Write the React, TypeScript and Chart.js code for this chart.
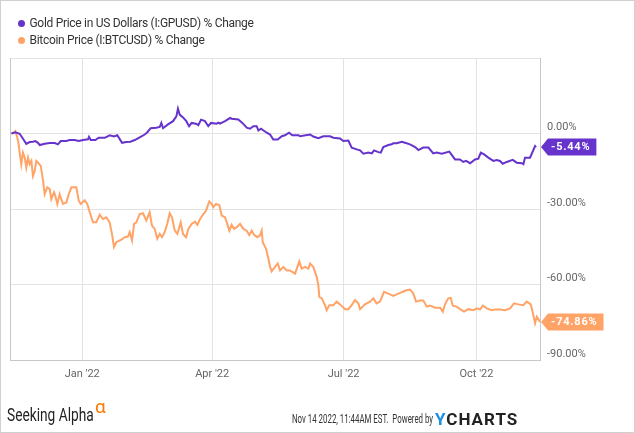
import React, { useEffect, useLayoutEffect, useRef } from 'react';
import { Chart, registerables } from 'chart.js';

Chart.register(...registerables);

const seriesNames = ['Gold Price in US Dollars (I:GPUSD) % Change', 'Bitcoin Price (I:BTCUSD) % Change'];
const seriesColors = ['#6633cc', '#ffa366'];

const xTickDays = [0, 90, 181, 273];
const xTickLabels = ["Jan '22", "Apr '22", "Jul '22", "Oct '22"];
const yTickValues = [30, 0, -30, -60, -90];

const goldDays = [-49, -46.3, -43.3, -41, -38.7, -36.4, -34.1, -32.5, -30.6, -29.4,
  -26, -22.5, -19, -16.8, -14.9, -11, -8.7, -5.2, -2.4, 0.6,
  4, 4.7, 5.9, 9.1, 11.4, 15.6, 19, 22, 24.3, 27.6,
  30.5, 33.3, 36.4, 39.8, 43.3, 45.1, 47.4, 51.3, 53.7, 54.8,
  56, 59.4, 62.9, 65.2, 66.3, 67.5, 69.8, 72.1, 73.3, 74,
  75.8, 79.3, 80.4, 82.3, 85, 87.3, 89.2, 93.1, 94.3, 95.4,
  98.9, 102.4, 103.5, 108.1, 110.9, 113.9, 116.2, 118.5, 120.8, 122,
  123.8, 127.8, 130.1, 132.3, 135.4, 138.2, 140.4, 143.2, 145.5, 149.7,
  150.8, 157.8, 160, 163.5, 167, 171.6, 173.9, 178.5, 180.8, 184.3,
  186.6, 190.1, 192.4, 194.7, 198.1, 200.5, 202.1, 205.1, 206.7, 208.5,
  212, 214.3, 215.4, 217.8, 221.3, 223.5, 227, 230.5, 232.8, 236.2,
  239.7, 243.1, 245.5, 249, 254.2, 258.2, 261.6, 263.9, 265.8, 268.6,
  272, 274.3, 276, 278.3, 281.2, 284.7, 287, 289.3, 291.2, 294,
  298.1, 300.9, 304.4, 305.5, 306.6, 310.1, 313.6, 314.3];
const goldValues = [0, 0.5, -0.1, -2.1, -4.1, -3.4, -3.3, -3.0, -3.7, -4.6,
  -4.1, -3.8, -3.8, -4.3, -3.0, -3.0, -2.6, -2.6, -3.0, -2.6,
  -2.3, -1.3, -2.6, -2.6, -1.7, -1.7, -0.7, -1.2, -0.7, -3.7,
  -3.4, -3.3, -2.6, -1.5, -0.4, 0.5, 2.1, 2.3, 2.6, 4.2,
  2.1, 3.6, 4.9, 6.8, 9.9, 7.5, 6.4, 4.9, 3.6, 2.9,
  4.2, 3.8, 3.3, 5.5, 4.9, 2.9, 4.2, 3.9, 4.3, 3.9,
  4.9, 6.2, 5.9, 5.6, 4.2, 2.3, 1.9, 2.9, 2.9, 1.2,
  1.9, 0.3, -0.4, -2.4, -2.4, -1.1, -0.7, 0.3, -0.7, -0.7,
  -1.1, -0.4, -1.2, -1.9, -1.1, -1.1, -1.7, -2.0, -3.0, -2.8,
  -5.6, -6.3, -6.7, -8.0, -7.6, -7.9, -6.7, -7.4, -7.6, -5.4,
  -4.6, -4.3, -3.9, -3.9, -3.3, -3.7, -4.3, -5.4, -6.6, -5.6,
  -5.6, -7.9, -7.6, -8.0, -7.2, -10.3, -10.3, -11.3, -10.9, -11.8,
  -10.3, -10.0, -7.6, -8.3, -9.6, -10.9, -10.5, -10.9, -12.0, -11.3,
  -10.5, -11.6, -11.8, -12.2, -9.6, -9.6, -5.0, -5.44];

const btcDays = [-49, -47.2, -46.3, -44.9, -44, -43.3, -42.2, -41, -39.8, -38.7,
  -37.5, -36.4, -35.2, -34.1, -32.9, -31.8, -30.6, -28.7, -27.1, -26,
  -24.2, -22.5, -21.4, -19.5, -18.6, -17.2, -15.6, -14.5, -13.3, -11,
  -9.3, -7.5, -4.1, -2.4, -1, 1.7, 3.5, 5.2, 7.5, 9.8,
  12.1, 14.4, 16.7, 19, 20.6, 22, 23.6, 27.1, 29.4, 31.7,
  32.9, 34.5, 35.9, 37.5, 39.8, 42.1, 44.4, 46.7, 48.3, 50.2,
  52, 53.7, 55.3, 57.1, 58.9, 60.6, 62.2, 64.1, 65.9, 68.2,
  69.8, 71.9, 73.5, 75.8, 78.1, 79.7, 81.6, 83.9, 85.7, 88,
  89.7, 90.8, 92.7, 94.9, 96.6, 98.9, 100.1, 101.9, 103.5, 105.1,
  107, 109.3, 111.6, 113.9, 115.7, 117.4, 119, 121.3, 123.1, 124.3,
  125, 127.3, 128.9, 130.1, 131.2, 133.5, 135.4, 137, 139.3, 141.6,
  143.9, 147.4, 150.3, 152, 154.3, 156.6, 157.8, 160, 162.4, 163.5,
  164.2, 165.9, 168.1, 169.3, 171.1, 173.9, 176.2, 178.5, 182, 184.3,
  186.6, 188.9, 191.2, 192.4, 195.8, 199.3, 201.6, 203.9, 206.2, 209,
  212, 215.4, 218.9, 222, 224.7, 227, 229.3, 231.2, 233.9, 236.2,
  238.6, 240.9, 244.3, 247.8, 249.7, 251.2, 253.5, 255.2, 256.6, 259.3,
  261.6, 264.4, 267.4, 270.8, 273.2, 275.5, 277.4, 280.1, 283.6, 285.9,
  289.3, 292.8, 296.3, 299, 302, 305.5, 307.8, 310.6, 312.4, 313.6,
  314.8, 317];
const btcValues = [0, 0.3, 0.9, -1.7, -4.3, -7.6, -12.2, -7.6, -9.6, -13.5,
  -9.6, -12.2, -10.9, -16.9, -14.9, -10.9, -11.6, -12.9, -18.8, -24.1,
  -21.4, -22.1, -26.1, -23.4, -24.8, -28.0, -24.1, -26.1, -28.0, -27.4,
  -24.1, -21.4, -21.4, -26.7, -28.0, -26.5, -28.0, -31.3, -35.3, -35.3,
  -32.3, -34.0, -33.3, -35.3, -39.9, -45.1, -43.2, -42.2, -41.2, -40.9,
  -39.2, -42.5, -35.9, -35.3, -32.0, -31.7, -34.6, -31.3, -36.6, -37.9,
  -41.8, -39.9, -41.2, -39.2, -35.9, -31.7, -33.3, -38.6, -39.9, -35.3,
  -39.9, -41.2, -37.9, -35.9, -35.0, -36.3, -34.0, -32.0, -30.7, -27.0,
  -28.0, -29.3, -28.0, -28.4, -32.6, -33.3, -35.3, -38.6, -36.3, -37.9,
  -37.2, -35.9, -37.9, -38.6, -40.3, -38.6, -40.3, -41.2, -40.5, -38.6,
  -43.2, -45.8, -49.7, -53.0, -54.8, -53.0, -51.7, -54.4, -53.0, -54.4,
  -54.4, -55.7, -50.8, -53.7, -53.0, -53.7, -51.7, -53.0, -57.0, -60.3,
  -64.9, -65.5, -68.2, -70.2, -68.2, -68.2, -66.8, -67.9, -69.8, -69.8,
  -68.2, -66.2, -67.5, -69.8, -67.9, -66.8, -65.5, -67.5, -66.8, -62.9,
  -63.6, -64.5, -63.6, -62.9, -62.3, -62.0, -63.6, -66.8, -66.4, -66.4,
  -68.8, -68.4, -69.2, -69.2, -70.8, -67.9, -65.5, -65.3, -68.4, -68.8,
  -69.8, -70.8, -69.8, -70.2, -69.5, -69.9, -68.4, -69.5, -70.2, -69.9,
  -69.9, -70.2, -69.5, -67.5, -67.9, -68.2, -66.8, -67.9, -72.1, -75.4,
  -72.8, -74.86];

const FONT = 'Roboto, "Noto Sans", sans-serif';

const endLabelsPlugin = {
  id: 'endLabels',
  beforeDatasetsDraw(chart: any) {
    const { ctx, chartArea } = chart;
    ctx.save();
    ctx.strokeStyle = '#c8c8c8';
    ctx.lineWidth = 1;
    ctx.beginPath();
    ctx.moveTo(Math.round(chartArea.left) + 0.5, chartArea.top);
    ctx.lineTo(Math.round(chartArea.left) + 0.5, chartArea.bottom);
    ctx.stroke();
    ctx.restore();
  },
  afterDraw(chart: any) {
    const { ctx, chartArea } = chart;
    chart.data.datasets.forEach((ds: any, i: number) => {
      const meta = chart.getDatasetMeta(i);
      const pt = meta.data[meta.data.length - 1];
      if (!pt) return;
      const y = Math.round(pt.y);
      const last = ds.data[ds.data.length - 1].y;
      const text = last.toFixed(2) + '%';
      ctx.save();
      ctx.font = `bold 11px ${FONT}`;
      (ctx as any).letterSpacing = '0.8px';
      const w = ctx.measureText(text).width;
      const tip = chartArea.right + 1;
      const base = tip + 7;
      const right = base + 3 + w + 6;
      const h = 17;
      ctx.fillStyle = seriesColors[i];
      ctx.beginPath();
      ctx.moveTo(tip, y);
      ctx.lineTo(base, y - h / 2);
      ctx.lineTo(right, y - h / 2);
      ctx.lineTo(right, y + h / 2);
      ctx.lineTo(base, y + h / 2);
      ctx.closePath();
      ctx.fill();
      ctx.fillStyle = '#ffffff';
      ctx.textAlign = 'left';
      ctx.textBaseline = 'middle';
      ctx.fillText(text, base + 3, y + 0.5);
      ctx.restore();
    });
  },
};

function FitText({ text, width, style }: { text: string; width: number; style: React.CSSProperties }) {
  const ref = useRef<HTMLSpanElement>(null);
  useLayoutEffect(() => {
    const el = ref.current;
    if (!el) return;
    el.style.transform = 'none';
    const w = el.offsetWidth;
    if (w > 0) el.style.transform = `scaleX(${width / w})`;
  }, [text, width]);
  return (
    <span
      ref={ref}
      style={{ position: 'absolute', whiteSpace: 'nowrap', display: 'inline-block', transformOrigin: 'left top', lineHeight: 1, ...style }}
    >
      {text}
    </span>
  );
}

export default function App() {
  const canvasRef = useRef<HTMLCanvasElement>(null);

  useEffect(() => {
    document.body.style.margin = '0';
    const canvas = canvasRef.current;
    if (!canvas) return;
    const chart = new Chart(canvas, {
      type: 'line',
      data: {
        datasets: [
          {
            label: seriesNames[0],
            data: goldDays.map((d, i) => ({ x: d, y: goldValues[i] })),
            borderColor: seriesColors[0],
            backgroundColor: seriesColors[0],
            borderWidth: 2,
            pointRadius: 0,
            tension: 0,
          },
          {
            label: seriesNames[1],
            data: btcDays.map((d, i) => ({ x: d, y: btcValues[i] })),
            borderColor: seriesColors[1],
            backgroundColor: seriesColors[1],
            borderWidth: 2,
            pointRadius: 0,
            tension: 0,
          },
        ],
      },
      options: {
        animation: false,
        responsive: false,
        devicePixelRatio: 1,
        layout: { padding: { left: 10, top: 58, right: 0, bottom: 0 } },
        plugins: { legend: { display: false }, tooltip: { enabled: false } },
        scales: {
          x: {
            type: 'linear',
            min: -50,
            max: 317,
            afterBuildTicks: (scale: any) => {
              scale.ticks = xTickDays.map((v) => ({ value: v }));
            },
            afterFit: (scale: any) => {
              scale.height = 73;
            },
            ticks: {
              autoSkip: false,
              maxRotation: 0,
              padding: 8,
              color: '#666666',
              font: { family: FONT, size: 11 },
              callback: (value: any) => {
                const idx = xTickDays.indexOf(Number(value));
                return idx >= 0 ? xTickLabels[idx] : '';
              },
            },
            grid: { color: '#e3e3e3', drawTicks: false },
            border: { color: '#c8c8c8' },
          },
          y: {
            position: 'right',
            min: -90,
            max: 30,
            afterBuildTicks: (scale: any) => {
              scale.ticks = yTickValues.map((v) => ({ value: v }));
            },
            afterFit: (scale: any) => {
              scale.width = 95;
            },
            ticks: {
              padding: 7,
              labelOffset: -6,
              color: '#666666',
              font: { family: FONT, size: 11 },
              callback: (value: any) => (Number(value) > 0 ? '' : Number(value).toFixed(2) + '%'),
            },
            grid: { color: '#e3e3e3', drawTicks: false },
            border: { color: '#c8c8c8' },
          },
        },
      } as any,
      plugins: [endLabelsPlugin],
    });
    return () => chart.destroy();
  }, []);

  const legendRow: React.CSSProperties = { display: 'flex', alignItems: 'center', height: 17 };
  const dot = (c: string): React.CSSProperties => ({ width: 7, height: 7, borderRadius: '50%', background: c, marginRight: 5, flex: 'none' });

  return (
    <div style={{ position: 'relative', width: 635, height: 433, background: '#fff', overflow: 'hidden', fontFamily: FONT }}>
      <canvas ref={canvasRef} width={635} height={433} style={{ position: 'absolute', left: 0, top: 0, width: 635, height: 433 }} />
      <div style={{ position: 'absolute', left: 17.5, top: 14.5, fontSize: 12, letterSpacing: -0.3, color: '#333', lineHeight: '17px' }}>
        {seriesNames.map((n, i) => (
          <div key={n} style={legendRow}>
            <span style={dot(seriesColors[i])} />
            <span>{n}</span>
          </div>
        ))}
      </div>
      <FitText text="Seeking Alpha" width={87} style={{ left: 7, top: 406, fontSize: 18, color: '#222' }} />
      <span style={{ position: 'absolute', left: 95, top: 397, fontSize: 19, lineHeight: 1, color: '#ff7a00' }}>α</span>
      <FitText text="Nov 14 2022, 11:44AM EST.  Powered by" width={141} style={{ left: 292, top: 413, fontSize: 12, color: '#333', whiteSpace: 'pre' }} />
      <span style={{ position: 'absolute', left: 435, top: 411, fontSize: 17, lineHeight: 1, fontWeight: 700, letterSpacing: 1, color: '#222' }}>
        <span style={{ color: '#1a8fe3' }}>Y</span>CHARTS
      </span>
      <div style={{ position: 'absolute', left: 0, top: 0, width: 635, height: 433, boxSizing: 'border-box', border: '1px solid #d0d0d0', pointerEvents: 'none' }} />
    </div>
  );
}
